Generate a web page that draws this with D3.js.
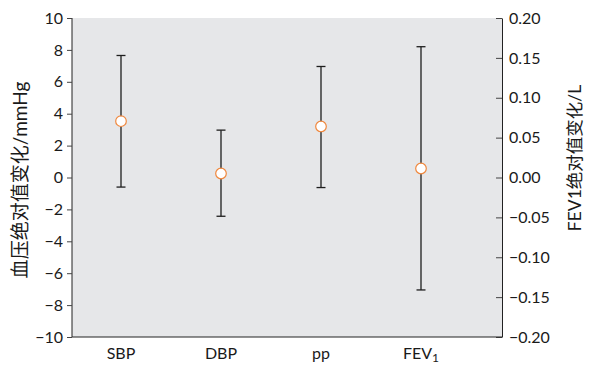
<!DOCTYPE html>
<html>
<head>
<meta charset="utf-8">
<script src="https://cdn.jsdelivr.net/npm/d3@7"></script>
<style>
  body { margin: 0; background: #fff; }
  svg text { font-family: Lato, "Noto Sans CJK SC", sans-serif; fill: #1a1a1a; }
</style>
</head>
<body>
<div id="chart"></div>
<script>
// categories and values
var categories = ["SBP", "DBP", "pp", "FEV1"];
var means = [3.53, 0.25, 3.2, 0.0113];
var upper = [7.65, 2.97, 6.96, 0.164];
var lower = [-0.6, -2.43, -0.63, -0.141];
// which axis each category uses (FEV1 goes on the right one)
var useRight = [false, false, false, true];

var leftTicks = [-10, -8, -6, -4, -2, 0, 2, 4, 6, 8, 10];
var rightTicks = [-0.2, -0.15, -0.1, -0.05, 0, 0.05, 0.1, 0.15, 0.2];

var w = 593, h = 366,
    margin = {top: 18, right: 91, bottom: 29, left: 72},
    width = w - margin.left - margin.right,
    height = h - margin.top - margin.bottom;

var svg = d3.select("#chart").append("svg").attr("width", w).attr("height", h),
    g = svg.append("g").attr("transform", "translate(" + margin.left + "," + margin.top + ")");

var x = d3.scalePoint()
    .domain(categories)
    .range([49, 349]);

var yL = d3.scaleLinear().domain([-10, 10]).range([height, 0]);
var yR = d3.scaleLinear().domain([-0.2, 0.2]).range([height, 0]);

g.append("rect")
    .attr("width", width)
    .attr("height", height)
    .attr("fill", "#e6e7e9");

// left axis
var ax = g.append("g")
    .call(d3.axisLeft(yL).tickValues(leftTicks).tickSize(5).tickPadding(4)
      .tickFormat(function(d) { return d < 0 ? "\u2212" + Math.abs(d) : d; }));
ax.selectAll("text").style("font-size", "16px");
ax.select(".domain").attr("stroke", "#222").attr("d", "M0,0V" + height);
ax.selectAll(".tick line").attr("stroke", "#444");

// right axis, ticks point inward
var ar = g.append("g")
    .attr("transform", "translate(" + width + ",0)")
    .call(d3.axisRight(yR).tickValues(rightTicks).tickSizeInner(-6).tickSizeOuter(0).tickPadding(7)
      .tickFormat(function(d) { var s = d3.format(".2f")(Math.abs(d)); return d < 0 ? "\u2212" + s : s; }));
ar.selectAll("text").style("font-size", "16px");
ar.select(".domain").attr("stroke", "#222");
ar.selectAll(".tick line").attr("stroke", "#444");

// bottom border
g.append("line")
    .attr("x1", 0).attr("x2", width)
    .attr("y1", height).attr("y2", height)
    .attr("stroke", "#222");

// category labels
var lab = g.append("g").selectAll("text")
    .data(categories)
  .enter().append("text")
    .attr("x", function(d) { return x(d); })
    .attr("y", height + 22)
    .attr("text-anchor", "middle")
    .style("font-size", "16px");
lab.each(function(d) {
  var t = d3.select(this);
  if (d === "FEV1") {
    t.append("tspan").text("FEV");
    t.append("tspan").attr("dy", 3).style("font-size", "12px").text("1");
  } else {
    t.text(d);
  }
});

var rows = categories.map(function(c, i) {
  var s = useRight[i] ? yR : yL;
  return {cat: c, m: s(means[i]), hi: s(upper[i]), lo: s(lower[i])};
});

var bars = g.append("g").selectAll("g")
    .data(rows)
  .enter().append("g");

bars.append("line")
    .attr("x1", function(d) { return x(d.cat); })
    .attr("x2", function(d) { return x(d.cat); })
    .attr("y1", function(d) { return d.hi; })
    .attr("y2", function(d) { return d.lo; })
    .attr("stroke", "#1e1e1e")
    .attr("stroke-width", 1.3);

["hi", "lo"].forEach(function(k) {
  bars.append("line")
      .attr("x1", function(d) { return x(d.cat) - 4.5; })
      .attr("x2", function(d) { return x(d.cat) + 4.5; })
      .attr("y1", function(d) { return d[k]; })
      .attr("y2", function(d) { return d[k]; })
      .attr("stroke", "#1e1e1e")
      .attr("stroke-width", 1.3);
});

bars.append("circle")
    .attr("cx", function(d) { return x(d.cat); })
    .attr("cy", function(d) { return d.m; })
    .attr("r", 5.3)
    .attr("fill", "#fff")
    .attr("stroke", "#f0883e")
    .attr("stroke-width", 1.2);

// axis titles
svg.append("text")
    .attr("transform", "translate(27,180) rotate(-90)")
    .attr("text-anchor", "middle")
    .style("font-size", "19px")
    .text("血压绝对值变化/mmHg");

svg.append("text")
    .attr("transform", "translate(581,158) rotate(-90)")
    .attr("text-anchor", "middle")
    .style("font-size", "17.5px")
    .text("FEV1绝对值变化/L");
</script>
</body>
</html>
